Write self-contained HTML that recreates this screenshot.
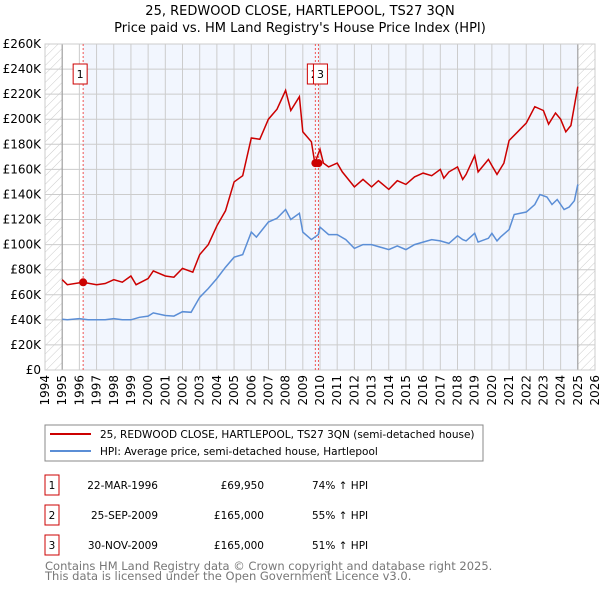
<!DOCTYPE html>
<html><head><meta charset="utf-8"><style>
body{margin:0;background:#fff;font-family:"DejaVu Sans","Liberation Sans",sans-serif;}
svg text{font-family:"DejaVu Sans","Liberation Sans",sans-serif;}
</style></head><body>
<svg id="chart" width="600" height="590" viewBox="0 0 600 590" xmlns="http://www.w3.org/2000/svg">
<defs><pattern id="hatch" width="6" height="6" patternUnits="userSpaceOnUse" patternTransform="rotate(45)"><line x1="0" y1="0" x2="0" y2="6" stroke="#ccc" stroke-width="1"/></pattern></defs>
<text x="300" y="15" text-anchor="middle" font-size="13">25, REDWOOD CLOSE, HARTLEPOOL, TS27 3QN</text>
<text x="300" y="32" text-anchor="middle" font-size="13">Price paid vs. HM Land Registry's House Price Index (HPI)</text>
<g id="plot"></g>
<rect x="45" y="425" width="438" height="36" fill="#fff" stroke="#888"/>
<line x1="50" y1="434" x2="91" y2="434" stroke="#cc0000" stroke-width="2"/>
<text x="100" y="438" font-size="10.5">25, REDWOOD CLOSE, HARTLEPOOL, TS27 3QN (semi-detached house)</text>
<line x1="50" y1="451" x2="91" y2="451" stroke="#5b8ed6" stroke-width="2"/>
<text x="100" y="455" font-size="10.5">HPI: Average price, semi-detached house, Hartlepool</text>
<g id="table" font-size="10.5"></g>
<text x="45" y="570" font-size="11.5" fill="#777">Contains HM Land Registry data © Crown copyright and database right 2025.</text>
<text x="45" y="580" font-size="11.5" fill="#777">This data is licensed under the Open Government Licence v3.0.</text>
</svg>
<script>
const hpiYears=[1995,1995.3,1996,1996.5,1997,1997.5,1998,1998.5,1999,1999.5,2000,2000.3,2001,2001.5,2002,2002.5,2003,2003.5,2004,2004.5,2005,2005.5,2006,2006.3,2007,2007.5,2008,2008.3,2008.8,2009,2009.5,2009.9,2010,2010.5,2011,2011.5,2012,2012.5,2013,2013.5,2014,2014.5,2015,2015.5,2016,2016.5,2017,2017.5,2018,2018.3,2018.5,2019,2019.2,2019.8,2020,2020.3,2020.5,2021,2021.3,2022,2022.5,2022.8,2023.2,2023.5,2023.8,2024.2,2024.5,2024.8,2025];
const hpiValues=[40.5,40,41,40,40,40,41,40,40,42,43,45.5,43.5,43,46.5,46,58,65,73,82,90,92,110,106,118,121,128,120,125,110,104,108,114,108,108,104,97,100,100,98,96,99,96,100,102,104,103,101,107,104,103,109,102,105,109,103,106,112,124,126,132,140,138,132,136,128,130,135,148];
const redYears=[1995,1995.3,1996.2,1997,1997.5,1998,1998.5,1999,1999.3,2000,2000.3,2001,2001.5,2002,2002.6,2003,2003.5,2004,2004.5,2005,2005.5,2006,2006.5,2007,2007.5,2008,2008.3,2008.8,2009,2009.5,2009.7,2010,2010.2,2010.5,2011,2011.3,2012,2012.5,2013,2013.4,2014,2014.5,2015,2015.5,2016,2016.5,2017,2017.2,2017.5,2018,2018.3,2018.5,2019,2019.2,2019.5,2019.8,2020,2020.3,2020.7,2021,2021.5,2022,2022.5,2023,2023.3,2023.7,2024,2024.3,2024.6,2025];
const redValues=[72,68,70,68,69,72,70,75,68,73,79,75,74,81,78,92,100,115,127,150,155,185,184,200,208,223,207,218,190,182,165,176,165,162,165,158,146,152,146,151,144,151,148,154,157,155,160,153,158,162,152,156,171,158,163,168,163,156,165,183,190,197,210,207,196,205,200,190,195,226];
const saleLabels=["1","2","3"];
const saleYears=[1996.22,2009.73,2009.91];
const saleValues=[69.95,165,165];
const saleDates=["22-MAR-1996","25-SEP-2009","30-NOV-2009"];
const salePrices=["£69,950","£165,000","£165,000"];
const salePcts=["74% ↑ HPI","55% ↑ HPI","51% ↑ HPI"];
const yTicks=[0,20,40,60,80,100,120,140,160,180,200,220,240,260];
const xTicks=[1994,1995,1996,1997,1998,1999,2000,2001,2002,2003,2004,2005,2006,2007,2008,2009,2010,2011,2012,2013,2014,2015,2016,2017,2018,2019,2020,2021,2022,2023,2024,2025,2026];

const L=45,R=595,T=44,B=370;
const x=y=>L+(y-1994)/32*(R-L);
const yv=v=>B-v/260*(B-T);
const NS="http://www.w3.org/2000/svg";
const plot=document.getElementById('plot');
function mk(tag,attrs,parent){const e=document.createElementNS(NS,tag);for(const k in attrs)e.setAttribute(k,attrs[k]);(parent||plot).appendChild(e);return e;}
let e;
e=mk('rect',{x:L,y:T,width:R-L,height:B-T,fill:'#fff'});


e=mk('rect',{x:x(saleYears[0]),y:T,width:x(2025)-x(saleYears[0]),height:B-T,fill:'#f2f6fe'});


e=mk('rect',{x:L,y:T,width:x(1995)-L,height:B-T,fill:'url(#hatch)'});


e=mk('rect',{x:x(2025),y:T,width:R-x(2025),height:B-T,fill:'url(#hatch)'});


yTicks.forEach(v=>{
  e=mk('line',{x1:L,x2:R,y1:yv(v),y2:yv(v),stroke:'#ccc'});
  
  
  e=mk('text',{x:L-4,y:yv(v)+4,'text-anchor':'end','font-size':'12'});
  e.textContent=v===0?'£0':'£'+v+'K';
  
  
});
xTicks.forEach(t=>{
  e=mk('line',{x1:x(t),x2:x(t),y1:T,y2:B,stroke:'#ccc'});
  
  
  e=mk('text',{transform:`translate(${x(t)+4},${B+5}) rotate(-90)`,'text-anchor':'end','font-size':'12'});
  e.textContent=t;
  
  
});
[1995,2025].forEach(t=>{e=mk('line',{x1:x(t),x2:x(t),y1:T,y2:B,stroke:'#999'});

});
e=mk('rect',{x:L,y:T,width:R-L,height:B-T,fill:'none',stroke:'#ccc'});


saleYears.forEach((s,i)=>{
  e=mk('line',{x1:x(s),x2:x(s),y1:T,y2:B,stroke:'#e55','stroke-dasharray':'2,2'});
  
  
});
const pts=(xs,vs)=>xs.map((t,i)=>x(t).toFixed(1)+','+yv(vs[i]).toFixed(1)).join(' ');
e=mk('polyline',{points:pts(hpiYears,hpiValues),fill:'none',stroke:'#5b8ed6','stroke-width':1.5});


e=mk('polyline',{points:pts(redYears,redValues),fill:'none',stroke:'#cc0000','stroke-width':1.5});


saleYears.forEach((s,i)=>{
  e=mk('circle',{cx:x(s),cy:yv(saleValues[i]),r:4,fill:'#cc0000'});
  
  
});
[[0,-10],[1,-8],[2,-5]].forEach(([i,dx])=>{
  const bx=x(saleYears[i])+dx;
  e=mk('rect',{x:bx,y:64,width:14,height:20,fill:'#fff',stroke:'#cc0000'});
  
  
  e=mk('text',{x:bx+7,y:78,'text-anchor':'middle','font-size':'11'});
  e.textContent=saleLabels[i];
  
  
});
const tb=document.getElementById('table');
saleLabels.forEach((l,i)=>{
  const cy=485+i*30;
  e=mk('rect',{x:45,y:cy-10,width:14,height:20,fill:'#fff',stroke:'#cc0000'},tb);
  
  
  e=mk('text',{x:52,y:cy+4,'text-anchor':'middle'},tb);e.textContent=l;
  
  
  e=mk('text',{x:158,y:cy+4,'text-anchor':'end'},tb);e.textContent=saleDates[i];
  
  
  e=mk('text',{x:264,y:cy+4,'text-anchor':'end'},tb);e.textContent=salePrices[i];
  
  
  e=mk('text',{x:312,y:cy+4},tb);e.textContent=salePcts[i];
  
  
});
</script>
</body></html>
